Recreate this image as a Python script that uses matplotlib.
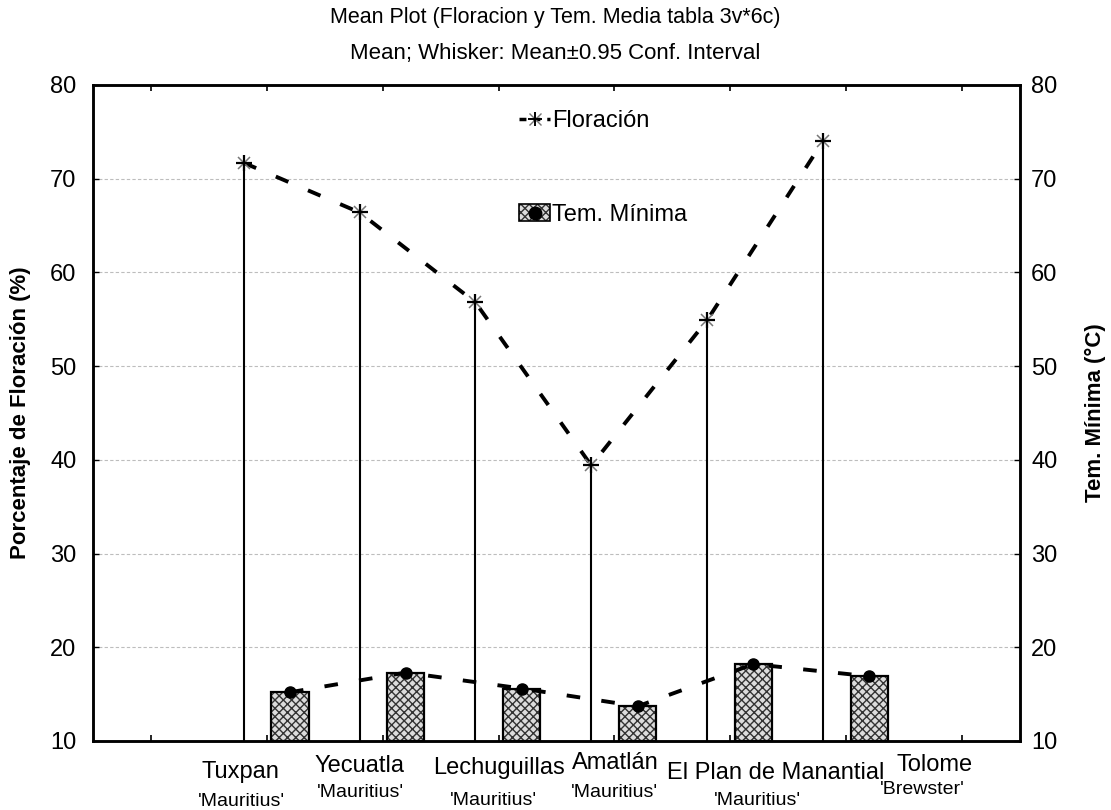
import numpy as np
import matplotlib
matplotlib.use("Agg")
from matplotlib import pyplot as plt
from matplotlib.lines import Line2D
from matplotlib.patches import Patch

plt.rcParams['font.family'] = ['Liberation Sans', 'DejaVu Sans']

# ---- data
sites = ['Tuxpan', 'Yecuatla', 'Lechuguillas', 'Amatlán', 'El Plan de Manantial', 'Tolome']
cultivars = ["'Mauritius'", "'Mauritius'", "'Mauritius'", "'Mauritius'", "'Mauritius'", "'Brewster'"]
floracion = [71.7, 66.4, 56.8, 39.4, 54.9, 74.0]
tem_minima = [15.2, 17.3, 15.6, 13.7, 18.2, 16.9]
y_ticks = [10, 20, 30, 40, 50, 60, 70, 80]

# label placement (the original program puts them a bit off-centre)
name_dx = [-0.23, -0.20, 0.0, 0.01, 0.39, 0.76]
cult_dx = [-0.22, -0.19, -0.04, 0.0, 0.23, 0.66]
name_y = [-0.047, -0.038, -0.041, -0.034, -0.049, -0.036]
cult_y = [-0.093, -0.079, -0.091, -0.078, -0.090, -0.074]

pos = np.arange(1, len(sites) + 1)
ymin, ymax = 10, 80

fig = plt.figure(figsize=(11.11, 8.10), dpi=100)
ax = fig.add_axes([0.0837, 0.0852, 0.8344, 0.8099])
ax2 = ax.twinx()

# Floración: whiskers + dashed mean line with asterisk markers
ax.vlines(pos - 0.2, ymin, floracion, color='black', lw=1.5, zorder=3)
ax.plot(pos - 0.2, floracion, color='black', lw=2.8, dashes=(3.5, 5.5), zorder=4)
ax.plot(pos - 0.2, floracion, ls='none', marker='x', ms=9, mew=1.1, color='#777777', zorder=5)
ax.plot(pos - 0.2, floracion, ls='none', marker='+', ms=12, mew=1.6, color='black', zorder=6)

# Tem. Mínima: hatched bars + dashed line
ax2.bar(pos + 0.2, np.array(tem_minima) - ymin, bottom=ymin, width=0.32,
        color='#dcdcdc', edgecolor='#333333', hatch='xxxx', lw=0, zorder=2)
ax2.bar(pos + 0.2, np.array(tem_minima) - ymin, bottom=ymin, width=0.32,
        fill=False, edgecolor='black', lw=1.6, zorder=3)
ax2.plot(pos + 0.2, tem_minima, color='black', lw=2.8, dashes=(3.5, 5.5), zorder=4)
ax2.plot(pos + 0.2, tem_minima, ls='none', marker='o', ms=8, color='black', zorder=5)

for a in (ax, ax2):
    a.set_ylim(ymin, ymax)
    a.set_yticks(y_ticks)
    a.tick_params(axis='y', direction='in', length=4, width=1, labelsize=17, pad=12)
ax2.tick_params(axis='y', pad=8)
ax.set_xlim(-0.5, 7.5)
ax.set_xticks(np.arange(0, 8))
ax.set_xticklabels([])
ax.tick_params(axis='x', direction='in', length=4, width=1.2, top=True, bottom=True)
ax.yaxis.grid(True, color='#bdbdbd', lw=0.8, ls=(0, (3, 2)))
ax.set_axisbelow(True)
for a in (ax, ax2):
    for s in a.spines.values():
        s.set_linewidth(1.8)

for i in range(len(sites)):
    ax.text(pos[i] + name_dx[i], name_y[i], sites[i], transform=ax.get_xaxis_transform(),
            ha='center', va='center', fontsize=17)
    ax.text(pos[i] + cult_dx[i], cult_y[i], cultivars[i], transform=ax.get_xaxis_transform(),
            ha='center', va='center', fontsize=14)

ax.set_ylabel('Porcentaje de Floración (%)', fontsize=16, fontweight='bold', labelpad=14)
ax2.set_ylabel('Tem. Mínima (°C)', fontsize=16, fontweight='bold', labelpad=20)

fig.text(0.5, 1 - 17 / 810, 'Mean Plot (Floracion y Tem. Media tabla 3v*6c)',
         ha='center', va='center', fontsize=15.5)
fig.text(0.5, 1 - 54 / 810, 'Mean; Whisker: Mean±0.95 Conf. Interval',
         ha='center', va='center', fontsize=16)

h_flor = (Line2D([], [], color='black', lw=2.5, dashes=(2, 2)),
          Line2D([], [], ls='none', marker='x', ms=8, mew=1, color='#777777'),
          Line2D([], [], ls='none', marker='+', ms=10, mew=1.4, color='black'))
h_tem = (Patch(facecolor='#dcdcdc', edgecolor='#333333', hatch='xxxx', lw=0),
         Patch(fill=False, edgecolor='black', lw=1.2),
         Line2D([], [], ls='none', marker='o', ms=9, color='black'))
ax2.legend([h_flor, h_tem], ['Floración', 'Tem. Mínima'], loc='upper left',
           bbox_to_anchor=(0.447, 0.98), frameon=False, fontsize=17,
           labelspacing=3.05, handlelength=1.3, handletextpad=0.1, borderpad=0)

fig.savefig('out.png', dpi=100)
